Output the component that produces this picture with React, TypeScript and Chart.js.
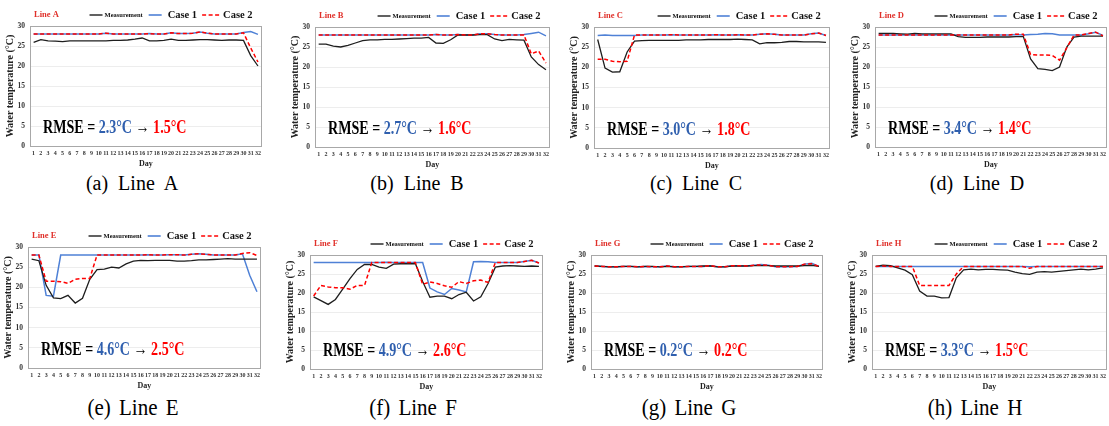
import { useEffect, useRef } from "react";
import { Chart, registerables } from "chart.js";
Chart.register(...registerables);

const FONT = "'Liberation Serif', 'Times New Roman', serif";

const days = ["1","2","3","4","5","6","7","8","9","10","11","12","13","14","15","16","17","18","19","20","21","22","23","24","25","26","27","28","29","30","31","32"];
const yTicks = [0, 5, 10, 15, 20, 25, 30];

const lineA_measurement = [25.9,26.6,26.3,26.2,26.1,26.3,26.3,26.3,26.3,26.3,26.3,26.4,26.4,26.5,26.7,27.0,26.3,26.3,26.4,26.7,26.4,26.4,26.5,26.6,26.6,26.5,26.4,26.5,26.5,26.4,22.6,20.0];
const lineA_case1 = [28.0,28.0,28.0,28.0,28.0,28.0,28.0,28.0,28.0,28.0,28.2,28.0,28.0,28.0,28.0,28.0,28.1,28.0,28.0,28.3,28.1,28.1,28.2,28.5,28.2,28.0,28.0,28.0,28.0,28.4,28.6,27.9];
const lineA_case2 = [28.0,28.0,28.0,28.0,28.0,28.0,28.0,28.0,28.0,28.0,28.2,28.0,28.0,28.0,28.0,28.0,28.1,28.0,28.0,28.3,28.1,28.1,28.2,28.5,28.2,28.0,28.0,28.0,28.0,28.3,24.5,21.0];

const lineB_measurement = [25.7,25.7,25.2,25.0,25.4,26.0,26.6,26.8,26.8,26.9,26.9,27.0,27.1,27.2,27.2,27.4,26.0,25.9,26.8,28.0,28.0,28.0,28.1,28.1,27.0,26.6,26.9,26.8,26.7,22.5,20.6,19.3];
const lineB_case1 = [28.0,28.0,28.0,28.0,28.0,28.0,28.0,28.0,28.0,28.0,28.0,28.0,28.0,28.0,28.0,28.0,28.1,28.0,28.0,28.1,28.0,28.0,28.3,28.3,28.1,28.0,28.0,28.0,28.1,28.4,28.7,27.8];
const lineB_case2 = [28.0,28.0,28.0,28.0,28.0,28.0,28.0,28.0,28.0,28.0,28.0,28.0,28.0,28.0,28.0,28.0,28.1,28.0,28.0,28.1,28.0,28.0,28.3,28.3,28.1,28.0,28.0,28.0,28.0,23.3,24.0,21.0];

const lineC_measurement = [26.9,19.8,18.8,18.9,23.8,26.5,26.6,26.7,26.7,26.7,26.7,26.7,26.8,26.8,26.8,26.9,26.9,26.9,26.9,27.0,26.9,26.8,25.8,26.1,26.1,26.2,26.4,26.4,26.3,26.3,26.3,26.2];
const lineC_case1 = [27.9,28.0,27.9,27.9,27.9,27.9,28.0,28.0,28.0,28.0,28.1,28.0,28.0,28.0,28.0,28.0,28.1,28.0,28.0,28.1,28.0,28.0,28.2,28.3,28.2,28.0,28.0,28.0,28.0,28.3,28.5,27.9];
const lineC_case2 = [22.0,22.0,21.5,21.4,21.5,28.0,28.0,28.0,28.0,28.0,28.1,28.0,28.0,28.0,28.0,28.0,28.1,28.0,28.0,28.1,28.0,28.0,28.2,28.3,28.2,28.0,28.0,28.0,28.0,28.3,28.5,27.9];

const lineD_measurement = [28.4,28.4,28.4,28.3,28.2,28.4,28.3,28.3,28.3,28.3,28.3,27.6,27.4,27.4,27.4,27.5,27.5,27.5,27.5,27.6,27.6,22.0,19.6,19.4,19.1,20.0,25.0,27.5,27.7,27.7,27.7,27.7];
const lineD_case1 = [28.0,28.0,28.0,28.0,28.0,28.0,28.0,28.0,28.0,28.0,28.0,28.0,28.0,28.0,28.0,28.0,28.0,28.0,28.0,28.1,28.0,28.1,28.2,28.4,28.3,28.0,28.0,28.0,28.0,28.3,28.7,27.9];
const lineD_case2 = [28.0,28.0,28.0,28.0,28.0,28.0,28.0,28.0,28.0,28.0,28.0,28.0,28.0,28.0,28.0,28.0,28.0,28.0,28.0,28.2,28.2,23.1,23.0,23.0,22.9,21.7,24.8,28.0,28.0,28.4,28.7,27.8];

const lineE_measurement = [27.0,26.6,20.5,17.4,17.2,18.0,16.1,17.3,22.0,24.4,24.5,25.0,24.8,25.8,26.5,26.7,26.6,26.7,26.7,26.7,26.5,26.5,26.6,26.8,26.8,26.9,27.0,27.1,27.0,27.0,27.0,27.0];
const lineE_case1 = [28.0,28.0,18.0,17.8,28.0,28.0,28.0,28.0,28.0,28.0,28.0,28.0,28.0,28.0,28.0,28.0,28.1,28.0,28.0,28.1,28.1,28.0,28.2,28.3,28.2,28.0,28.0,28.0,28.0,28.3,23.0,18.9];
const lineE_case2 = [28.0,28.0,21.5,21.5,21.4,21.0,22.0,22.2,22.2,28.0,28.0,28.0,28.0,28.0,28.0,28.0,28.1,28.0,28.0,28.1,28.1,28.0,28.2,28.3,28.2,28.0,28.0,28.0,28.0,28.4,28.6,27.9];

const lineF_measurement = [19.0,18.0,17.0,18.3,21.0,23.8,26.2,27.5,27.5,26.8,26.5,27.6,27.7,27.7,27.7,23.0,18.9,19.2,19.2,18.5,19.6,20.2,17.9,19.0,22.5,26.8,27.1,27.2,27.1,27.0,27.1,27.0];
const lineF_case1 = [28.0,28.0,28.0,28.0,28.0,28.0,28.0,28.0,28.0,28.0,28.1,28.0,28.0,28.0,28.0,28.0,21.3,20.3,19.6,21.2,20.8,20.3,28.2,28.3,28.2,28.0,28.0,28.0,28.0,28.3,28.6,27.9];
const lineF_case2 = [19.2,22.0,21.6,21.4,21.4,21.0,22.0,22.0,28.0,28.0,28.0,28.0,28.0,28.0,28.0,22.3,22.9,22.5,21.9,21.5,23.0,22.5,23.2,23.4,22.8,28.0,28.0,28.0,28.0,28.3,28.6,27.9];

const lineG_measurement = [27.1,27.0,26.9,26.9,27.0,27.0,26.9,27.0,27.0,26.9,27.0,26.9,26.9,27.0,27.0,27.1,27.1,26.9,26.9,27.1,27.1,27.1,27.2,27.2,27.2,27.1,27.1,27.1,27.1,27.2,27.3,27.0];
const lineG_case1 = [27.1,27.0,26.9,26.9,27.0,27.0,26.9,27.0,26.9,26.9,27.1,26.9,26.9,27.0,27.0,27.0,27.2,26.9,26.9,27.2,27.2,27.1,27.3,27.5,27.3,26.9,26.9,26.9,27.0,27.6,27.8,27.0];
const lineG_case2 = [27.1,27.0,26.9,26.9,27.0,27.0,26.9,27.0,26.9,26.9,27.1,26.9,26.9,27.0,27.0,27.0,27.2,26.9,26.9,27.2,27.2,27.1,27.3,27.4,27.3,26.9,26.9,26.9,27.0,27.6,27.7,27.0];

const lineH_measurement = [27.0,27.3,27.2,26.6,26.0,24.8,20.5,19.2,19.2,18.7,18.8,24.0,26.1,26.3,26.1,26.2,26.2,26.1,26.0,25.5,25.1,24.9,25.5,25.6,25.5,25.7,25.9,26.1,26.3,26.1,26.3,26.6];
const lineH_case1 = [27.0,27.0,27.0,27.0,27.0,27.0,27.0,27.0,27.0,27.0,27.0,27.0,27.0,27.0,27.0,27.0,27.0,27.0,27.0,27.0,27.0,26.9,27.0,27.0,27.0,27.0,27.0,27.0,27.0,27.0,27.0,27.0];
const lineH_case2 = [27.0,27.1,27.0,27.0,27.0,27.0,22.0,22.0,22.0,22.0,22.0,25.0,27.0,27.0,27.0,27.0,27.0,27.0,27.0,27.0,27.0,26.5,27.0,27.0,27.0,27.0,27.0,27.0,27.0,27.0,27.0,27.0];

const panelTitles = ["Line A","Line B","Line C","Line D","Line E","Line F","Line G","Line H"];
const captions = ["(a)  Line  A","(b)  Line  B","(c)  Line  C","(d)  Line  D","(e) Line E","(f) Line F","(g) Line G","(h) Line H"];
const rmseCase1 = ["2.3","2.7","3.0","3.4","4.6","4.9","0.2","3.3"];
const rmseCase2 = ["1.5","1.6","1.8","1.4","2.5","2.6","0.2","1.5"];
const measurements = [lineA_measurement,lineB_measurement,lineC_measurement,lineD_measurement,lineE_measurement,lineF_measurement,lineG_measurement,lineH_measurement];
const case1s = [lineA_case1,lineB_case1,lineC_case1,lineD_case1,lineE_case1,lineF_case1,lineG_case1,lineH_case1];
const case2s = [lineA_case2,lineB_case2,lineC_case2,lineD_case2,lineE_case2,lineF_case2,lineG_case2,lineH_case2];

// layout: plot-area rectangles [left, top, right, bottom] and caption centres
const areas = [
  [30, 26, 262, 146], [315, 27, 550, 147], [594, 27, 830, 148], [875, 27, 1107, 147],
  [28, 247, 261, 368], [310, 255, 543, 369], [591, 255, 823, 369], [872, 255, 1107, 369],
];
const capPos = [[132, 185], [417, 185], [696, 185], [977, 185], [133, 408], [413, 408], [689, 408], [975, 408]];

const PAD_TOP = 20, Y_W = 26, X_H = 24, PAD_R = 3;
const C_MEAS = "#1e1e1e", C_CASE1 = "#4f81d6", C_CASE2 = "#ff0000";

const framePlugin = {
  id: "frame",
  afterDraw(chart: any, _args: any, opts: any) {
    const { ctx, chartArea: a } = chart;
    ctx.save();
    ctx.strokeStyle = "#a8a8a8";
    ctx.lineWidth = 1;
    ctx.setLineDash([]);
    ctx.strokeRect(Math.round(a.left) + 0.5, Math.round(a.top) + 0.5, Math.round(a.right - a.left) - 1, Math.round(a.bottom - a.top));
    const y = a.top - 11;
    ctx.textBaseline = "middle";
    ctx.textAlign = "left";
    ctx.fillStyle = "#e0302a";
    ctx.font = `bold 8.5px ${FONT}`;
    ctx.fillText(opts.title, a.left + 4, y);
    // legend drawn right to left
    let x = a.right - 9;
    ctx.fillStyle = "#111";
    ctx.textAlign = "right";
    ctx.font = `bold 10.5px ${FONT}`;
    ctx.fillText("Case 2", x, y);
    x -= ctx.measureText("Case 2").width + 3;
    ctx.strokeStyle = C_CASE2; ctx.lineWidth = 1.6; ctx.setLineDash([4, 2.5]);
    ctx.beginPath(); ctx.moveTo(x - 18, y); ctx.lineTo(x, y); ctx.stroke();
    ctx.setLineDash([]);
    x -= 18 + 5;
    ctx.fillText("Case 1", x, y);
    x -= ctx.measureText("Case 1").width + 6;
    ctx.strokeStyle = C_CASE1; ctx.lineWidth = 1.6;
    ctx.beginPath(); ctx.moveTo(x - 13, y); ctx.lineTo(x, y); ctx.stroke();
    x -= 13 + 6;
    ctx.font = `bold 6.5px ${FONT}`;
    ctx.fillText("Measurement", x, y);
    x -= ctx.measureText("Measurement").width + 2;
    ctx.strokeStyle = C_MEAS; ctx.lineWidth = 1.4;
    ctx.beginPath(); ctx.moveTo(x - 13, y); ctx.lineTo(x, y); ctx.stroke();
    ctx.restore();
  },
};

function PanelChart({ i }: { i: number }) {
  const ref = useRef<HTMLCanvasElement>(null);
  const [L, T, R, B] = areas[i];
  const w = R - L + Y_W + PAD_R;
  const h = B - T + PAD_TOP + X_H;
  useEffect(() => {
    const chart = new Chart(ref.current as HTMLCanvasElement, {
      type: "line",
      data: {
        labels: days,
        datasets: [
          { label: "Measurement", data: measurements[i], borderColor: C_MEAS, borderWidth: 1.3, pointRadius: 0, order: 1 },
          { label: "Case 1", data: case1s[i], borderColor: C_CASE1, borderWidth: 1.5, pointRadius: 0, order: 2 },
          { label: "Case 2", data: case2s[i], borderColor: C_CASE2, borderWidth: 1.5, borderDash: [4, 2.5], pointRadius: 0, order: 0 },
        ],
      },
      options: {
        animation: false,
        responsive: false,
        devicePixelRatio: 1,
        layout: { padding: { top: PAD_TOP, right: PAD_R, left: 0, bottom: 0 } },
        plugins: {
          legend: { display: false },
          tooltip: { enabled: false },
          frame: { title: panelTitles[i] },
        } as any,
        scales: {
          x: {
            type: "category",
            offset: true,
            grid: { display: false, drawTicks: false },
            border: { display: false },
            ticks: { autoSkip: false, maxRotation: 0, minRotation: 0, padding: 4, color: "#333", font: { family: FONT, size: 6, weight: "bold" } },
            title: { display: true, text: "Day", color: "#222", padding: { top: 0, bottom: 1 }, font: { family: FONT, size: 8, weight: "bold" } },
            afterFit: (s: any) => { s.height = X_H; },
          },
          y: {
            min: 0,
            max: 30,
            afterBuildTicks: (s: any) => { s.ticks = yTicks.map((v) => ({ value: v })); },
            grid: { color: "#e8e8e8", lineWidth: 0.8, drawTicks: false },
            border: { display: false },
            ticks: { padding: 5, color: "#333", font: { family: FONT, size: 7.5, weight: "bold" } },
            title: { display: true, text: "Water temperature (°C)", color: "#222", padding: { top: 0, bottom: 0 }, font: { family: FONT, size: 10, weight: "bold" } },
            afterFit: (s: any) => { s.width = Y_W; },
          },
        },
      },
      plugins: [framePlugin],
    } as any);
    return () => chart.destroy();
  }, [i]);
  return (
    <canvas
      ref={ref}
      width={w}
      height={h}
      style={{ position: "absolute", left: L - Y_W, top: T - PAD_TOP, width: w, height: h }}
    />
  );
}

function Rmse({ i }: { i: number }) {
  const [L, , , B] = areas[i];
  return (
    <div
      style={{
        position: "absolute",
        left: L + 13,
        top: B - 30,
        lineHeight: "24px",
        font: `bold 19px ${FONT}`,
        whiteSpace: "pre",
        color: "#000",
        transform: "scaleX(0.74)",
        transformOrigin: "left center",
      }}
    >
      <span>RMSE = </span>
      <span style={{ color: "#2f5fae" }}>{rmseCase1[i]}°C</span>
      <span> → </span>
      <span style={{ color: "#ff0000" }}>{rmseCase2[i]}°C</span>
    </div>
  );
}

function Caption({ i }: { i: number }) {
  const [cx, cy] = capPos[i];
  const row2 = i >= 4;
  return (
    <div
      style={{
        position: "absolute",
        left: cx - 100,
        top: cy - 13,
        width: 200,
        textAlign: "center",
        lineHeight: "26px",
        font: `${row2 ? 21 : 20}px ${FONT}`,
        wordSpacing: row2 ? "3px" : "0px",
        whiteSpace: "pre",
        color: "#000",
        transform: row2 ? "scaleY(1.12)" : "none",
      }}
    >
      {captions[i]}
    </div>
  );
}

export default function App() {
  const idx = [0, 1, 2, 3, 4, 5, 6, 7];
  return (
    <div style={{ position: "absolute", left: 0, top: 0, width: 1109, height: 426, background: "#fff", overflow: "hidden" }}>
      {idx.map((i) => (
        <PanelChart key={"c" + i} i={i} />
      ))}
      {idx.map((i) => (
        <Rmse key={"r" + i} i={i} />
      ))}
      {idx.map((i) => (
        <Caption key={"t" + i} i={i} />
      ))}
    </div>
  );
}
